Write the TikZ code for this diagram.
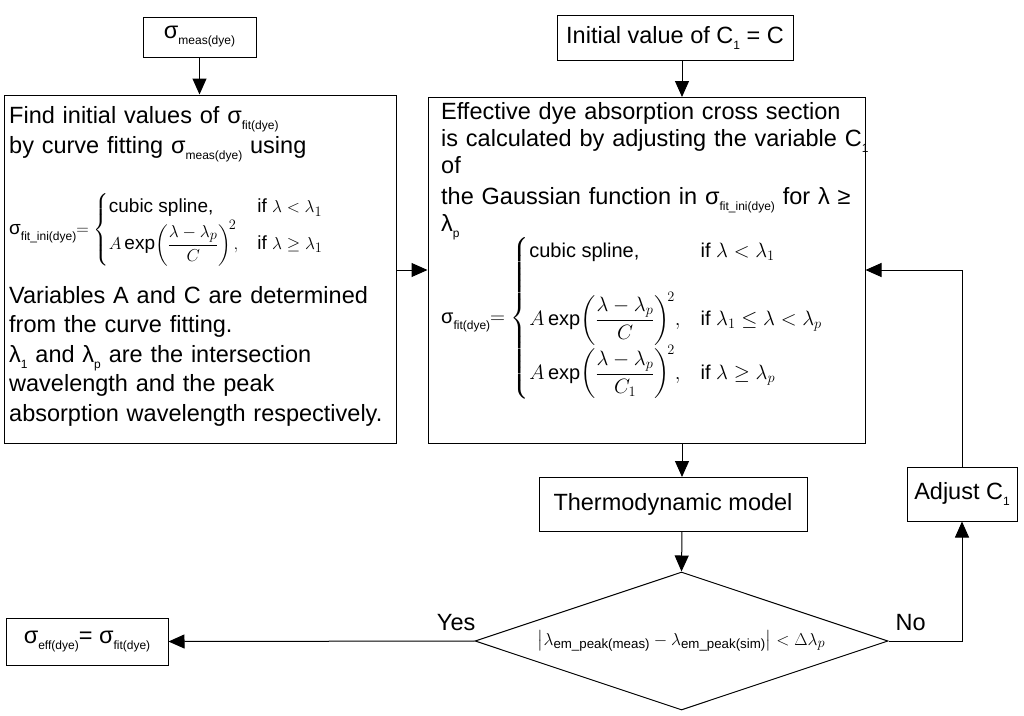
\documentclass[tikz,border=0pt]{standalone}
\usepackage{amsmath}
\usepackage{fontspec}
\setmainfont{Liberation Sans}
\usetikzlibrary{shapes.geometric,arrows.meta}
\newcommand{\sbs}[1]{\raisebox{-6pt}{\fontsize{12}{13}\selectfont #1}}
\begin{document}
\begin{tikzpicture}[x=1pt,y=-1pt,
  every node/.style={font=\fontsize{23.5}{30}\selectfont},
  box/.style={draw,line width=1pt,inner sep=0pt},
  arr/.style={line width=1pt,-{Triangle[length=16pt,width=14pt]}}]
\useasboundingbox (0,0) rectangle (1024,715);
% boxes
\node[box,minimum width=113,minimum height=40] (meas) at (199.5,37) {σ\sbs{meas(dye)}};
\node[box,minimum width=236,minimum height=45] (init) at (675,37.5) {Initial value of C\sbs{1} = C};
\node[box,minimum width=392,minimum height=348] (left) at (200,269) {};
\node[box,minimum width=437,minimum height=346] (right) at (646.5,270) {};
\node[box,minimum width=268,minimum height=54] (thermo) at (673,504) {Thermodynamic model};
\node[box,minimum width=110,minimum height=54] (adj) at (962,494) {Adjust C\sbs{1}};
\node[box,minimum width=162,minimum height=47] (eff) at (87,641.5) {σ\sbs{eff(dye)}= σ\sbs{fit(dye)}};
\node[draw,line width=1pt,diamond,aspect=3,minimum width=413,minimum height=138,inner sep=0pt] (dia) at (681.5,641) {};
\node[font=\fontsize{19}{22}\selectfont] at (dia.center) {$\left|\lambda_{\text{em\_peak(meas)}}-\lambda_{\text{em\_peak(sim)}}\right|<\Delta\lambda_p$};
% left box text
\node[anchor=north west,text width=386,align=left,inner sep=0pt,font=\fontsize{23.5}{30}\selectfont] (lt) at (9,106) {%
Find initial values of σ\sbs{fit(dye)}\\
by curve fitting σ\sbs{meas(dye)} using};
\node[anchor=west,inner sep=0pt,font=\fontsize{19}{22}\selectfont] (leq) at (9,230) {%
σ\sbs{fit\_ini(dye)}$=\begin{cases}\text{cubic spline,} & \text{if } \lambda<\lambda_1\\[0pt]
A\exp\!\left(\dfrac{\lambda-\lambda_p}{C}\right)^{\!2}\!\!, & \text{if } \lambda\ge\lambda_1\end{cases}$};
\node[anchor=north west,text width=386,align=left,inner sep=0pt,font=\fontsize{23.5}{29.5}\selectfont] (lb) at (9,286) {%
Variables A and C are determined\\
from the curve fitting.\\
λ\sbs{1} and λ\sbs{p} are the intersection\\
wavelength and the peak\\
absorption wavelength respectively.};
% right box text
\node[anchor=north west,text width=430,align=left,inner sep=0pt,font=\fontsize{23.5}{27}\selectfont] (rt) at (441,102) {%
Effective dye absorption cross section\\
is calculated by adjusting the variable C\sbs{1} of\\[4pt]
the Gaussian function in σ\sbs{fit\_ini(dye)} for λ ≥ λ\sbs{p}};
\node[anchor=west,inner sep=0pt,font=\fontsize{20}{24}\selectfont] (req) at (441,318) {%
σ\sbs{fit(dye)}$=\begin{cases}\text{cubic spline,} & \text{if } \lambda<\lambda_1\\[26pt]
A\exp\!\left(\dfrac{\lambda-\lambda_p}{C}\right)^{\!2}\!, & \text{if } \lambda_1\le\lambda<\lambda_p\\[2pt]
A\exp\!\left(\dfrac{\lambda-\lambda_p}{C_1}\right)^{\!2}\!, & \text{if } \lambda\ge\lambda_p\end{cases}$};
% connectors
\draw[arr] (meas.south) -- (meas.south |- left.north);
\draw[arr] (682,60) -- (682,97);
\draw[arr] (left.east |- 0,270) -- (right.west |- 0,270);
\draw[arr] (682,443) -- (682,477);
\draw[arr] (682,531) -- (dia.north);
\draw[arr] (dia.west) -- (eff.east) node[pos=0.06,above=6pt]{Yes};
\draw[arr] (dia.east) -- (962,641) node[pos=0.3,above=6pt]{No} -- (adj.south);
\draw[arr] (adj.north) -- (962,270) -- (right.east |- 0,270);
\end{tikzpicture}
\end{document}
